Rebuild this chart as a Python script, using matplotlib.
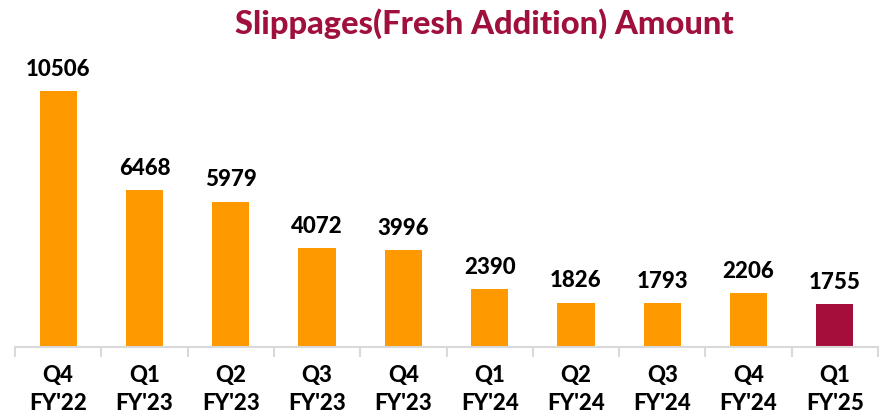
import matplotlib.pyplot as plt

plt.rcParams['font.family'] = ['Lato', 'DejaVu Sans']

quarters = ['Q4', 'Q1', 'Q2', 'Q3', 'Q4', 'Q1', 'Q2', 'Q3', 'Q4', 'Q1']
years = ["FY'22", "FY'23", "FY'23", "FY'23", "FY'23", "FY'24", "FY'24", "FY'24", "FY'24", "FY'25"]
slippages = [10506, 6468, 5979, 4072, 3996, 2390, 1826, 1793, 2206, 1755]

orange = '#FF9900'
crimson = '#A50E3A'
colors = [orange] * (len(slippages) - 1) + [crimson]

fig = plt.figure(figsize=(8.88, 4.2), dpi=100)
ax = fig.add_axes([15 / 888, 73 / 420, 863 / 888, 292 / 420])

x = range(len(slippages))
ax.bar(x, slippages, width=0.43, color=colors)
for i, v in enumerate(slippages):
    ax.annotate(str(v), (i, v), xytext=(0, 8), textcoords='offset points',
                ha='center', va='bottom', fontsize=16, fontweight='black', color='black')

ax.set_xlim(-0.5, len(slippages) - 0.5)
ax.set_ylim(0, 12000)
ax.set_yticks([])
for s in ['top', 'right', 'left']:
    ax.spines[s].set_visible(False)
ax.spines['bottom'].set_color('#d9d9d9')
ax.spines['bottom'].set_linewidth(1.5)

# tick marks sit between the categories, labels centred under each bar
ax.set_xticks([i - 0.5 for i in range(len(slippages) + 1)], minor=False)
ax.set_xticklabels([])
ax.tick_params(axis='x', which='major', length=7, color='#d9d9d9', width=1.5)
ax.set_xticks(list(x), minor=True)
ax.set_xticklabels([f'{q}\n{y}' for q, y in zip(quarters, years)], minor=True,
                   fontsize=16, fontweight='black', linespacing=1.4)
ax.tick_params(axis='x', which='minor', length=0, pad=13)

fig.text(0.545, 0.945, 'Slippages(Fresh Addition) Amount', ha='center', va='center',
         fontsize=23.5, fontweight='black', color='#A0103C')

fig.savefig('out.png', dpi=100)
